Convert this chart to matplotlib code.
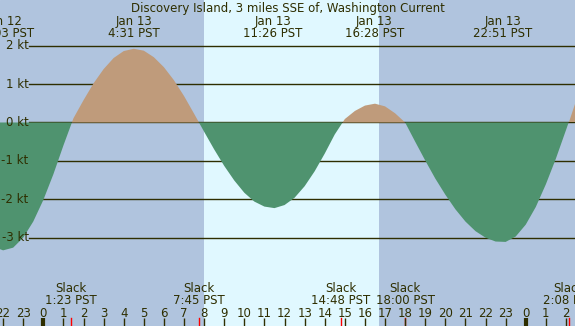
import numpy as np
import matplotlib
matplotlib.use("Agg")
import matplotlib.pyplot as plt
import matplotlib.transforms as mtransforms

# hours relative to Jan 13 00:00 PST, current speed in knots
hours = np.arange(-2.5, 27.0, 0.5)
speed = [-3.23, -3.33, -3.26, -3.00, -2.58, -2.02, -1.35, -0.60,
         0.11, 0.58, 1.02, 1.39, 1.68, 1.86, 1.92,
         1.87, 1.70, 1.44, 1.10, 0.69, 0.23,
         -0.24, -0.70, -1.13, -1.51, -1.83, -2.06, -2.19, -2.23,
         -2.15, -1.96, -1.66, -1.27, -0.81, -0.31,
         0.09, 0.30, 0.44, 0.49, 0.42, 0.24, 0.0,
         -0.50, -0.99, -1.46, -1.88, -2.26, -2.58, -2.83, -3.00, -3.10, -3.11,
         -2.97, -2.66, -2.20, -1.61, -0.94, -0.20, 0.55]

# max / min events: time (h), date label, time label
peak_t = [-1.95, 4.517, 11.433, 16.467, 22.85]
peak_day = ["Jan 12", "Jan 13", "Jan 13", "Jan 13", "Jan 13"]
peak_lbl = ["22:03 PST", "4:31 PST", "11:26 PST", "16:28 PST", "22:51 PST"]

slack_t = [1.383, 7.75, 14.8, 18.0, 26.133]
slack_lbl = ["1:23 PST", "7:45 PST", "14:48 PST", "18:00 PST", "2:08 PST"]

sunrise, sunset = 8.0, 16.7
levels = [2, 1, 0, -1, -2, -3]
hour_ticks = list(range(-2, 27))
hour_names = [str(h % 24) for h in hour_ticks]

title = "Discovery Island, 3 miles SSE of, Washington Current"

bg = "#b0c4de"
day = "#e0f8ff"
flood = "#bf9b7b"
ebb = "#4f936f"
ink = "#2e2e00"
H = 326.0

fig = plt.figure(figsize=(5.75, 3.26), dpi=100)
ax = fig.add_axes([0, 0, 1, 1])
ax.set_facecolor(bg)
ax.set_xlim(-2.154, 26.45)
ax.set_ylim(-5.30, 3.19)
ax.axis("off")
ax.add_patch(plt.Rectangle((0, 0), 1, 1, transform=ax.transAxes, color=bg, zorder=0))

ax.axvspan(sunrise, sunset, color=day, zorder=0.5, lw=0)

for lv in levels:
    ax.axhline(lv, xmin=29 / 575, xmax=1, color=ink, lw=1.0, zorder=1)
    ax.text(-0.73, lv, "%d kt" % lv, ha="right", va="center", fontsize=8.5, color=ink, zorder=5)

s = np.array(speed)
ax.fill_between(hours, 0, s, where=s >= 0, interpolate=True, color=flood, lw=0, zorder=2)
ax.fill_between(hours, 0, s, where=s <= 0, interpolate=True, color=ebb, lw=0, zorder=3)

tr = mtransforms.blended_transform_factory(ax.transData, ax.transAxes)

ax.text(0.5, 1 - 11.7 / H, title, transform=ax.transAxes, ha="center", va="baseline",
        fontsize=8.5, color=ink, zorder=5)
for t, d, l in zip(peak_t, peak_day, peak_lbl):
    ax.text(t, 1 - 25 / H, d, transform=tr, ha="center", va="baseline", fontsize=8.5, color=ink, zorder=5)
    ax.text(t, 1 - 36.7 / H, l, transform=tr, ha="center", va="baseline", fontsize=8.5, color=ink, zorder=5)

for t, l in zip(slack_t, slack_lbl):
    ax.text(t, 1 - 292 / H, "Slack", transform=tr, ha="center", va="baseline", fontsize=8.5, color=ink, zorder=5)
    ax.text(t, 1 - 304 / H, l, transform=tr, ha="center", va="baseline", fontsize=8.5, color=ink, zorder=5)
    ax.plot([t, t], [0, 8 / H], transform=tr, color="red", lw=1.0, zorder=6)

for h, n in zip(hour_ticks, hour_names):
    ax.text(h, 1 - 316.7 / H, n, transform=tr, ha="center", va="baseline", fontsize=8.5, color=ink, zorder=5)
    ax.plot([h, h], [0, 8 / H], transform=tr, color=ink, lw=3.0 if h % 24 == 0 else 1.0,
            solid_capstyle="butt", zorder=6)

fig.savefig("out.png", dpi=100)
